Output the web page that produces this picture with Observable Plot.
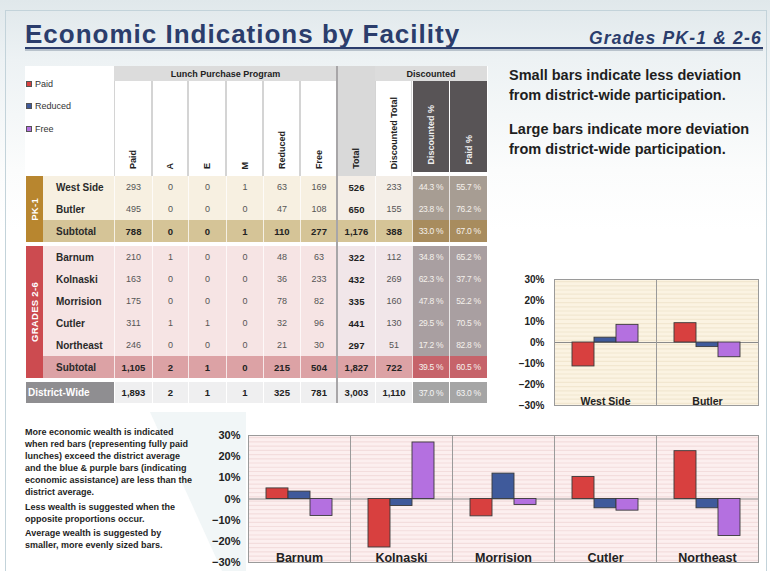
<!DOCTYPE html>
<html><head><meta charset="utf-8">
<script src="https://cdn.jsdelivr.net/npm/d3@7"></script>
<script src="https://cdn.jsdelivr.net/npm/@observablehq/plot@0.6"></script>
<style>
body{margin:0;background:#fff;}
#page{position:relative;width:770px;height:571px;overflow:hidden;font-family:"Liberation Sans",Arial,sans-serif;background:#fff;color:#222;}
.v{writing-mode:vertical-rl;transform:rotate(180deg);white-space:nowrap;}
</style></head><body><div id="page"></div>
<script>
// ---------- data ----------
const title = "Economic Indications by Facility";
const subtitle = "Grades PK-1 & 2-6";
const legendSeries = ["Paid", "Reduced", "Free"];
const seriesColors = ["#d8403f", "#3f5a9b", "#b470e0"];
const groupHeaders = ["Lunch Purchase Program", "Discounted"];
const columns = ["Paid", "A", "E", "M", "Reduced", "Free", "Total", "Discounted Total", "Discounted %", "Paid %"];
const pkLabel = "PK-1";
const pkNames = ["West Side", "Butler", "Subtotal"];
const pkValues = [
  [293, 0, 0, 1, 63, 169, 526, 233, 44.3, 55.7],
  [495, 0, 0, 0, 47, 108, 650, 155, 23.8, 76.2],
  [788, 0, 0, 1, 110, 277, 1176, 388, 33.0, 67.0]
];
const gradeLabel = "GRADES 2-6";
const gradeNames = ["Barnum", "Kolnaski", "Morrision", "Cutler", "Northeast", "Subtotal"];
const gradeValues = [
  [210, 1, 0, 0, 48, 63, 322, 112, 34.8, 65.2],
  [163, 0, 0, 0, 36, 233, 432, 269, 62.3, 37.7],
  [175, 0, 0, 0, 78, 82, 335, 160, 47.8, 52.2],
  [311, 1, 1, 0, 32, 96, 441, 130, 29.5, 70.5],
  [246, 0, 0, 0, 21, 30, 297, 51, 17.2, 82.8],
  [1105, 2, 1, 0, 215, 504, 1827, 722, 39.5, 60.5]
];
const districtName = "District-Wide";
const districtValues = [1893, 2, 1, 1, 325, 781, 3003, 1110, 37.0, 63.0];

const pkFacilities = ["West Side", "Butler"];
const pkPaidDev = [-0.114, 0.092];
const pkReducedDev = [0.023, -0.022];
const pkFreeDev = [0.084, -0.070];

const gradeFacilities = ["Barnum", "Kolnaski", "Morrision", "Cutler", "Northeast"];
const gradePaidDev = [0.050, -0.229, -0.082, 0.104, 0.226];
const gradeReducedDev = [0.035, -0.033, 0.120, -0.044, -0.044];
const gradeFreeDev = [-0.080, 0.267, -0.028, -0.055, -0.175];

const yTicks = [-0.3, -0.2, -0.1, 0, 0.1, 0.2, 0.3];

const noteRight = [
  ["Small bars indicate less deviation", "from district-wide participation."],
  ["Large bars indicate more deviation", "from district-wide participation."]
];
const noteLeft = [
  ["More economic wealth is indicated", "when red bars (representing fully paid", "lunches) exceed the district average", "and the blue & purple bars (indicating", "economic assistance) are less than the", "district average."],
  ["Less wealth is suggested when the", "opposite proportions occur."],
  ["Average wealth is suggested by", "smaller, more evenly sized bars."]
];

// ---------- layout helpers ----------
const page = document.getElementById("page");
function el(x, y, w, h, css, text) {
  const d = document.createElement("div");
  d.style.cssText = `position:absolute;left:${x}px;top:${y}px;width:${w}px;height:${h}px;box-sizing:border-box;${css || ""}`;
  if (text != null) d.textContent = text;
  page.appendChild(d);
  return d;
}
const center = "display:flex;align-items:center;justify-content:center;";

// background + frame
el(0, 0, 770, 571, "background:linear-gradient(#e0e8eb 0px,#edf2f4 60px,#fbfcfc 170px,#fff 230px);");
const wm = document.createElementNS("http://www.w3.org/2000/svg", "svg");
wm.setAttribute("width", 770); wm.setAttribute("height", 571);
wm.style.cssText = "position:absolute;left:0;top:0;";
wm.innerHTML = `<polygon points="150,412 246,412 246,571 222,571" fill="#f1f6f7"/>`;
page.appendChild(wm);
el(5, 10, 762, 575, "border:1.5px solid #c3d3da;");

// title
el(25, 18, 480, 32, "font-size:26px;font-weight:bold;color:#2b3d6c;letter-spacing:1px;white-space:nowrap;line-height:32px;", title);
el(500, 26, 262, 24, "font-size:17.5px;font-weight:bold;font-style:italic;color:#2b3d6c;letter-spacing:1.2px;text-align:right;white-space:nowrap;line-height:24px;", subtitle);
el(25, 47, 738, 2, "background:#2b3d6c;");
el(25, 49, 738, 2, "background:#b9c3cc;");

// table area background
el(25, 66, 463, 338, "background:#fff;");

// legend
legendSeries.forEach((s, i) => {
  const y = [84, 106, 129][i];
  el(26, y - 3, 6, 6, `background:${seriesColors[i]};border:1px solid #555;`);
  el(35, y - 6, 70, 12, "font-size:9px;color:#333;line-height:12px;white-space:nowrap;", s);
});

// column edges
const colX = [114, 152, 188, 226, 263, 300, 337, 375, 412, 449, 487];

// group headers
el(114, 66, 223, 15, center + "background:#dcdcdc;font-weight:bold;font-size:9px;color:#222;", groupHeaders[0]);
el(375, 66, 112, 15, center + "background:#dcdcdc;font-weight:bold;font-size:9px;color:#222;", groupHeaders[1]);
el(337, 66, 38, 110, "background:#d9d9d9;");

// column headers
columns.forEach((c, j) => {
  const x = colX[j], w = colX[j + 1] - colX[j];
  let css, top = 81, h = 95, color = "#222";
  if (j === 6) { css = ""; }
  else if (j >= 8) { css = "background:#585456;border-left:1px solid #fff;"; h = 91; color = "#eee"; }
  else { css = "background:#fff;border-left:1px solid #d4d4d4;border-right:1px solid #d4d4d4;"; }
  const d = el(x, top, w, h, "display:flex;align-items:flex-end;justify-content:center;padding-bottom:7px;" + css);
  const s = document.createElement("span");
  s.className = "v";
  s.style.cssText = `font-size:9px;font-weight:bold;color:${color};`;
  s.textContent = c;
  d.appendChild(s);
});

function fmt(v, j) { return j >= 8 ? v.toFixed(1) + " %" : d3.format(",")(v); }

function drawBlock(label, names, values, top, pal) {
  const rh = 22;
  const bar = el(26, top, 17, rh * names.length, center + `background:${pal.bar};`);
  const s = document.createElement("span");
  s.className = "v";
  s.style.cssText = "font-size:9.5px;font-weight:bold;color:#fff;letter-spacing:0.3px;";
  s.textContent = label;
  bar.appendChild(s);
  names.forEach((n, i) => {
    const y = top + rh * i;
    const sub = n === "Subtotal";
    el(43, y, 71, rh, `background:${sub ? pal.sub : pal.row};font-size:10px;font-weight:bold;color:#2a2a2a;padding-left:13px;display:flex;align-items:center;white-space:nowrap;`, n);
    values[i].forEach((v, j) => {
      const x = colX[j], w = colX[j + 1] - colX[j];
      let bg = j >= 8 ? (sub ? pal.pctSub : pal.pct) : (sub ? pal.sub : (j === 6 || j === 7 ? pal.total : pal.row));
      let fs = j >= 8 ? "font-size:8.5px;letter-spacing:-0.3px;color:#f5f1ec;" :
        (sub || j === 6 ? "font-size:9.5px;font-weight:bold;color:#222;" : "font-size:9px;color:#555;");
      el(x, y, w, rh, center + `background:${bg};border-left:1px solid rgba(255,255,255,0.75);` + fs, fmt(v, j));
    });
  });
}

drawBlock(pkLabel, pkNames, pkValues, 176, {bar: "#b8862f", row: "#f7f0e1", sub: "#d5c497", pct: "#a79d93", pctSub: "#a88c5e", total: "#f4eee7"});
drawBlock(gradeLabel, gradeNames, gradeValues, 246, {bar: "#cc4b50", row: "#f6e4e4", sub: "#dca2a5", pct: "#a99fa1", pctSub: "#c6636a", total: "#f1e6e9"});

// district-wide row
el(26, 382, 88, 21, "background:#8f8e91;color:#fff;font-weight:bold;font-size:10px;display:flex;align-items:center;padding-left:2px;white-space:nowrap;", districtName);
districtValues.forEach((v, j) => {
  const x = colX[j], w = colX[j + 1] - colX[j];
  const bg = j >= 8 ? "#a5a5a5" : "#efeff0";
  const fs = j >= 8 ? "font-size:8.5px;letter-spacing:-0.3px;color:#f5f5f5;" : "font-size:9.5px;font-weight:bold;color:#222;";
  el(x, 382, w, 21, center + `background:${bg};border-left:1px solid #fff;` + fs, fmt(v, j));
});
// total divider
el(336, 66, 2, 337, "background:#a8a6a8;");

// notes
noteRight.forEach((p, k) => {
  el(509, [65, 119][k], 258, 40, "font-size:14.5px;font-weight:bold;color:#1e1e1e;line-height:20px;white-space:nowrap;", null).innerHTML = p.join("<br>");
});
noteLeft.forEach((p, k) => {
  el(25, [426, 501, 527][k], 190, 80, "font-size:9px;font-weight:bold;color:#1e1e1e;line-height:12px;white-space:nowrap;", null).innerHTML = p.join("<br>");
});

// ---------- charts ----------
const stripes = d3.range(-0.29, 0.3, 0.02);
function devChart(facilities, paid, reduced, free, o) {
  const data = facilities.flatMap((f, i) => [
    {facility: f, series: legendSeries[0], value: paid[i]},
    {facility: f, series: legendSeries[1], value: reduced[i]},
    {facility: f, series: legendSeries[2], value: free[i]}
  ]);
  return Plot.plot({
    width: o.width, height: o.height,
    marginLeft: o.ml, marginRight: o.mr, marginTop: o.mt, marginBottom: o.mb,
    style: {background: "transparent", fontFamily: '"Liberation Sans",Arial,sans-serif', color: "#222", overflow: "visible"},
    fx: {domain: facilities, padding: 0, axis: null, label: null},
    x: {domain: legendSeries, paddingInner: 0, paddingOuter: 0.76, axis: null},
    y: {domain: [-0.3, 0.3], axis: null, label: null},
    color: {domain: legendSeries, range: seriesColors},
    marks: [
      Plot.frame({fill: o.bg}),
      Plot.ruleY(stripes, {stroke: o.stripe, strokeWidth: 1.2}),
      Plot.ruleY([0], {stroke: "#8a8a8a", strokeWidth: 1}),
      Plot.barY(data, {fx: "facility", x: "series", y: "value", fill: "series", stroke: "#3a3a3a", strokeWidth: 0.9}),
      Plot.text(facilities, {fx: d => d, text: d => d, frameAnchor: "bottom", dy: -1, fontWeight: "bold", fontSize: o.labelSize, fill: "#222"}),
      Plot.frame({stroke: "#9a9a9a"}),
      Plot.axisY(yTicks, {tickFormat: d3.format(".0%"), tickSize: 0, tickPadding: o.tickPad, fontWeight: "bold", fontSize: o.tickSize, fill: "#222", label: null})
    ]
  });
}

const c1 = el(500, 270, 265, 145, "");
c1.appendChild(devChart(pkFacilities, pkPaidDev, pkReducedDev, pkFreeDev,
  {width: 265, height: 145, ml: 53, mr: 7, mt: 9, mb: 10, bg: "#fbf3e2", stripe: "#f2e7d0", labelSize: 10.5, tickSize: 10, tickPad: 10}));

const c2 = el(190, 425, 575, 146, "");
c2.appendChild(devChart(gradeFacilities, gradePaidDev, gradeReducedDev, gradeFreeDev,
  {width: 575, height: 146, ml: 57, mr: 6, mt: 10, mb: 9, bg: "#fcefef", stripe: "#f3dddd", labelSize: 12.5, tickSize: 11, tickPad: 8}));
</script></body></html>
